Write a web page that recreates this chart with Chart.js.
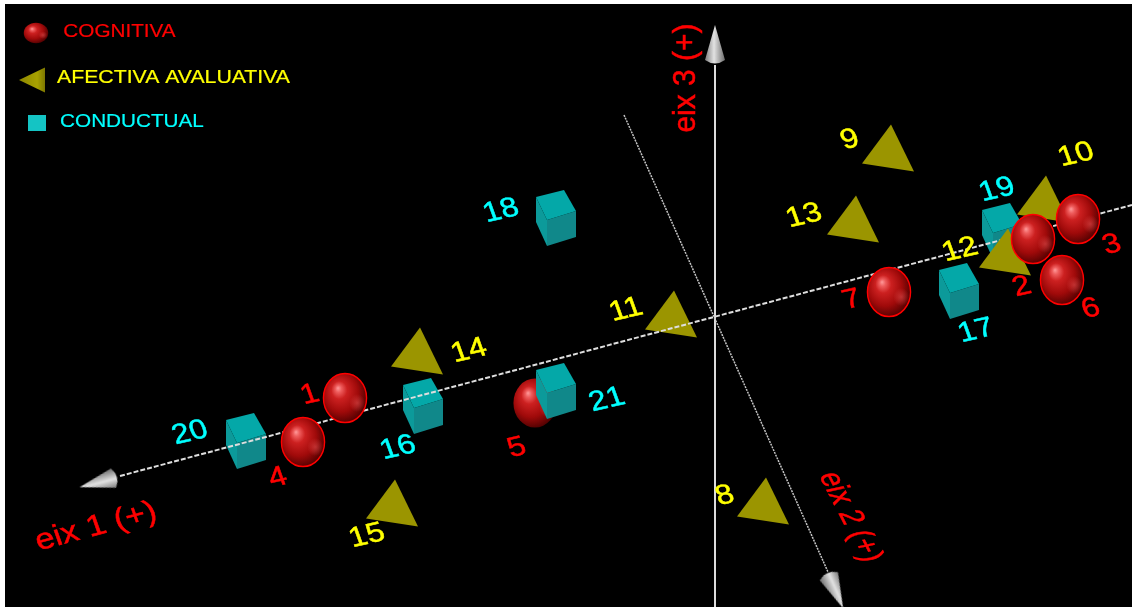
<!DOCTYPE html>
<html>
<head>
<meta charset="utf-8">
<title>eix 1 / eix 2 / eix 3</title>
<script src="https://cdn.jsdelivr.net/npm/chart.js@4/dist/chart.umd.min.js"></script>
<style>
  html, body { margin: 0; padding: 0; background: #fff; }
  canvas { display: block; }
</style>
</head>
<body>
<canvas id="chart" width="1132" height="607"></canvas>
<script>
// projected map values, origin is where the three axes cross
const cognitivaIds = [1, 2, 3, 4, 5, 6, 7];
const cognitivaX = [-371, 317, 362, -413, -181, 346, 173];
const cognitivaY = [-82, 77, 97, -126, -87, 36, 24];

const afectivaIds = [8, 9, 10, 11, 12, 13, 14, 15];
const afectivaX = [47, 172, 327, -45, 289, 137, -299, -324];
const afectivaY = [-185, 168, 117, 2, 64, 97, -35, -187];

const conductualIds = [16, 17, 18, 19, 20, 21];
const conductualX = [-293, 243, -160, 286, -470, -160];
const conductualY = [-90, 25, 98, 85, -125, -75];

const axis1X = [-596, 416];
const axis1Y = [-160, 111];
const axis2X = [-92, 112];
const axis2Y = [201, -256];
const axis3X = [-1, -1];
const axis3Y = [-291, 251];

const arrowX = [-617, 119, -1];
const arrowY = [-166, -274, 271];

const legendNames = ['COGNITIVA', 'AFECTIVA AVALUATIVA', 'CONDUCTUAL'];
const axisNames = ['eix 1 (+)', 'eix 2 (+)', 'eix 3 (+)'];
const axisNameX = [-620, 134, -30];
const axisNameY = [-211, -201, 238];

const RED = '#ff0000', YELLOW = '#ffff00', CYAN = '#00ffff';

// where each number sits relative to its marker, in pixels
const labelOffsets = {
  1: [-35, -3], 2: [-11, 48], 3: [34, 26], 4: [-25, 36], 5: [-18, 45], 6: [29, 29], 7: [-37, 8],
  8: [-38, -5], 9: [-38, -8], 10: [33, -44], 11: [-45, -4], 12: [-45, -2], 13: [-49, -3], 14: [52, 0], 15: [-25, 33],
  16: [-25, 42], 17: [17, 40], 18: [-55, -7], 19: [-5, -41], 20: [-56, -8], 21: [51, 9]
};

function sprite(w, h, paint) {
  const c = document.createElement('canvas');
  c.width = w;
  c.height = h;
  const g = c.getContext('2d');
  g.translate(w / 2, h / 2);
  paint(g);
  return c;
}

function poly(g, pts, fill) {
  g.beginPath();
  pts.forEach((p, i) => i ? g.lineTo(p[0], p[1]) : g.moveTo(p[0], p[1]));
  g.closePath();
  g.fillStyle = fill;
  g.fill();
}

function paintSphere(g, rx, ry, outline) {
  g.save();
  g.scale(rx / 25, ry / 25);
  const base = g.createRadialGradient(-8, -10, 0, -3, -3, 30);
  base.addColorStop(0, '#ff9a9a');
  base.addColorStop(0.12, '#ee5c5c');
  base.addColorStop(0.3, '#cc2020');
  base.addColorStop(0.65, '#a00a0a');
  base.addColorStop(1, '#480000');
  g.beginPath();
  g.arc(0, 0, 24.5, 0, Math.PI * 2);
  g.fillStyle = base;
  g.fill();
  const glow = g.createRadialGradient(14, 5, 0, 14, 5, 9);
  glow.addColorStop(0, 'rgba(235,90,90,0.5)');
  glow.addColorStop(1, 'rgba(235,90,90,0)');
  g.fillStyle = glow;
  g.fill();
  if (outline) {
    g.lineWidth = 1.6;
    g.strokeStyle = '#ff0000';
    g.stroke();
  }
  g.restore();
}

const sphereSprite = sprite(48, 54, g => paintSphere(g, 22, 25, true));
const bareSphereSprite = sprite(48, 54, g => paintSphere(g, 22, 25, false));

const triangleSprite = sprite(56, 50, g => {
  poly(g, [[3, -23.5], [-26, 15.5], [26, 23.5]], '#9b9500');
});

const cubeSprite = sprite(44, 60, g => {
  poly(g, [[-20, -21], [-9, 2], [-9, 28], [-20, 4]], '#0c9a9a');
  poly(g, [[-9, 2], [20, -7], [20, 19], [-9, 28]], '#10888a');
  poly(g, [[-20, -21], [8, -28], [20, -7], [-9, 2]], '#04a8a8');
});

const coneSprite = sprite(24, 42, g => {
  const grad = g.createLinearGradient(-10, 0, 10, 0);
  grad.addColorStop(0, '#7c7c7c');
  grad.addColorStop(0.45, '#e2e2e2');
  grad.addColorStop(1, '#6c6c6c');
  g.beginPath();
  g.moveTo(0, -20);
  g.lineTo(10, 15);
  g.quadraticCurveTo(0, 22, -10, 15);
  g.closePath();
  g.fillStyle = grad;
  g.fill();
});

const legendSphere = sprite(30, 26, g => paintSphere(g, 12.5, 10.5, false));
const legendTriangle = sprite(30, 28, g => {
  const grad = g.createLinearGradient(-13, 0, 13, 0);
  grad.addColorStop(0, '#8c8600');
  grad.addColorStop(0.7, '#a8a200');
  grad.addColorStop(1, '#7c7600');
  poly(g, [[-13, 0], [13, -12.5], [13, 12.5]], grad);
});

function pick(ids, xs, ys, allIds) {
  return ids.map(id => {
    const i = allIds.indexOf(id);
    return { x: xs[i], y: ys[i] };
  });
}

function zip(xs, ys) {
  return xs.map((x, i) => ({ x: x, y: ys[i] }));
}

function markerSet(data, style, order, name) {
  return {
    label: name,
    data: data,
    order: order,
    showLine: false,
    pointStyle: style,
    pointRadius: 20,
    pointHoverRadius: 20
  };
}

function axisSet(data, color, width, dash, order, name) {
  return {
    label: name,
    data: data,
    order: order,
    showLine: true,
    borderColor: color,
    borderWidth: width,
    borderDash: dash,
    pointRadius: 0
  };
}

// stacking follows the picture: the axis 1 line runs over the cubes but behind most spheres
const datasets = [
  markerSet(pick([6, 3, 7, 1, 4, 2], cognitivaX, cognitivaY, cognitivaIds), sphereSprite, 1, 'COGNITIVA'),
  markerSet(pick([12], afectivaX, afectivaY, afectivaIds), triangleSprite, 2, 'AFECTIVA AVALUATIVA'),
  axisSet(zip(axis1X, axis1Y), '#dedede', 2, [5, 2], 3, 'eix 1'),
  markerSet(pick(conductualIds, conductualX, conductualY, conductualIds), cubeSprite, 4, 'CONDUCTUAL'),
  markerSet(pick([8, 9, 10, 11, 13, 14, 15], afectivaX, afectivaY, afectivaIds), triangleSprite, 5, 'AFECTIVA AVALUATIVA'),
  markerSet(pick([5], cognitivaX, cognitivaY, cognitivaIds), bareSphereSprite, 6, 'COGNITIVA'),
  axisSet(zip(axis2X, axis2Y), '#c4c4c4', 1.5, [2, 1], 7, 'eix 2'),
  axisSet(zip(axis3X, axis3Y), '#dcdcdc', 2, [], 8, 'eix 3'),
  {
    label: 'arrows',
    data: zip(arrowX, arrowY),
    order: 9,
    showLine: false,
    pointStyle: coneSprite,
    pointRotation: [255, 156, 0],
    pointRadius: 20
  }
];

// text leans like the 3D scene it came from: [x basis, y basis]
function slantText(ctx, text, x, y, font, color, bx, by, weight) {
  ctx.save();
  ctx.translate(x, y);
  ctx.transform(bx[0], bx[1], by[0], by[1], 0, 0);
  ctx.font = font;
  ctx.fillStyle = color;
  ctx.strokeStyle = color;
  ctx.lineWidth = weight;
  ctx.textAlign = 'center';
  ctx.textBaseline = 'middle';
  ctx.fillText(text, 0, 0);
  ctx.strokeText(text, 0, 0);
  ctx.restore();
}

const blackBackground = {
  id: 'blackBackground',
  beforeDraw(chart) {
    const a = chart.chartArea;
    chart.ctx.fillStyle = '#000';
    chart.ctx.fillRect(a.left, a.top, a.right - a.left, a.bottom - a.top);
  }
};

const sceneText = {
  id: 'sceneText',
  afterDatasetsDraw(chart) {
    const ctx = chart.ctx;
    const sx = chart.scales.x, sy = chart.scales.y;

    const groups = [
      [cognitivaIds, cognitivaX, cognitivaY, RED],
      [afectivaIds, afectivaX, afectivaY, YELLOW],
      [conductualIds, conductualX, conductualY, CYAN]
    ];
    groups.forEach(g => {
      g[0].forEach((id, i) => {
        const off = labelOffsets[id];
        slantText(ctx, String(id), sx.getPixelForValue(g[1][i]) + off[0], sy.getPixelForValue(g[2][i]) + off[1],
          '29px "Liberation Sans"', g[3], [1.06, -0.24], [0.33, 0.92], 0.5);
      });
    });

    const axisBasis = [
      [[1.1, -0.29], [0.33, 0.94]],
      [[0.41, 0.81], [-1.07, 0.23]],
      [[0, -1], [1.05, 0]]
    ];
    axisNames.forEach((name, i) => {
      slantText(ctx, name, sx.getPixelForValue(axisNameX[i]), sy.getPixelForValue(axisNameY[i]),
        '30px "Liberation Sans"', RED, axisBasis[i][0], axisBasis[i][1], 0.5);
    });

    // legend, top left
    ctx.drawImage(legendSphere, 21, 20);
    ctx.drawImage(legendTriangle, 17, 66);
    ctx.fillStyle = '#14c4c4';
    ctx.fillRect(28, 115, 18, 16);
    slantText(ctx, legendNames[0], 119.5, 32, '18px "Liberation Sans"', RED, [1.15, 0], [0, 1], 0.2);
    slantText(ctx, legendNames[1], 173.5, 78, '18px "Liberation Sans"', YELLOW, [1.18, 0], [0, 1], 0.2);
    slantText(ctx, legendNames[2], 132, 122, '18px "Liberation Sans"', CYAN, [1.15, 0], [0, 1], 0.2);
  }
};

new Chart(document.getElementById('chart'), {
  type: 'scatter',
  data: { datasets: datasets },
  options: {
    responsive: false,
    animation: false,
    events: [],
    layout: { autoPadding: false, padding: { left: 5, top: 4, right: 0, bottom: 0 } },
    plugins: { legend: { display: false }, tooltip: { enabled: false } },
    scales: {
      x: { type: 'linear', display: false, min: -711, max: 416 },
      y: { type: 'linear', display: false, min: -291, max: 312 }
    }
  },
  plugins: [blackBackground, sceneText]
});
</script>
</body>
</html>
